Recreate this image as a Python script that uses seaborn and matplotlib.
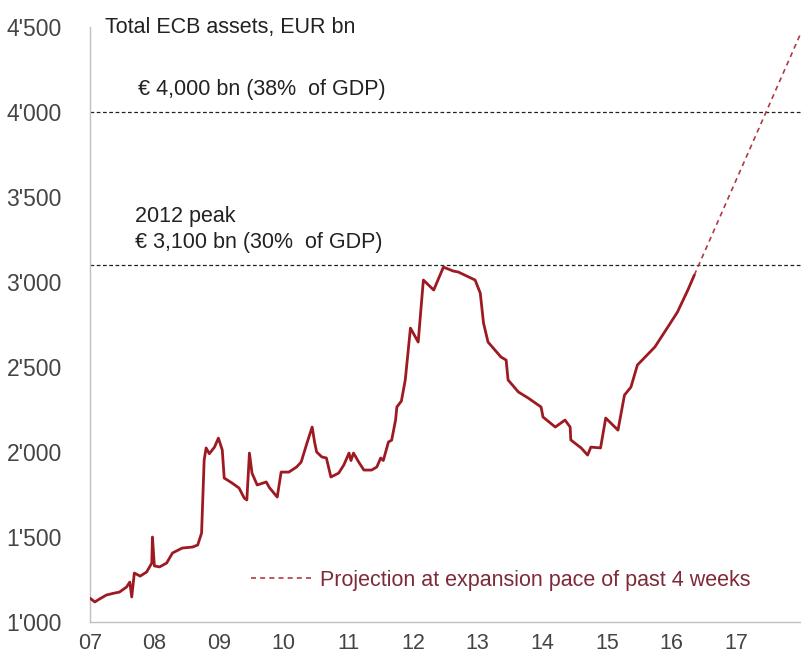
import seaborn as sns
import matplotlib.pyplot as plt
import pandas as pd

# Total ECB assets, EUR bn (decimal years)
years = [2007.00, 2007.08, 2007.15, 2007.26, 2007.38, 2007.46, 2007.57, 2007.62, 2007.65,
         2007.69, 2007.78, 2007.88, 2007.96, 2007.97, 2008.00, 2008.08, 2008.19, 2008.28,
         2008.43, 2008.59, 2008.67, 2008.73, 2008.77, 2008.80, 2008.85, 2008.93, 2008.99,
         2009.05, 2009.08, 2009.20, 2009.31, 2009.39, 2009.43, 2009.47, 2009.51, 2009.59,
         2009.73, 2009.78, 2009.90, 2009.96, 2010.08, 2010.20, 2010.27, 2010.36, 2010.44,
         2010.48, 2010.51, 2010.59, 2010.66, 2010.73, 2010.85, 2010.93, 2011.01, 2011.04,
         2011.08, 2011.16, 2011.24, 2011.36, 2011.44, 2011.50, 2011.54, 2011.62, 2011.67,
         2011.73, 2011.75, 2011.82, 2011.88, 2011.96, 2012.08, 2012.16, 2012.32, 2012.47,
         2012.62, 2012.70, 2012.96, 2013.04, 2013.09, 2013.16, 2013.36, 2013.44, 2013.47,
         2013.63, 2013.78, 2013.98, 2014.01, 2014.20, 2014.35, 2014.43, 2014.44, 2014.60,
         2014.70, 2014.75, 2014.90, 2014.98, 2015.17, 2015.27, 2015.37, 2015.47, 2015.74,
         2015.94, 2016.09, 2016.25, 2016.35]
assets = [1141, 1118, 1135, 1159, 1170, 1176, 1206, 1235, 1147,
          1288, 1270, 1294, 1347, 1500, 1330, 1324, 1347, 1406,
          1435, 1441, 1453, 1523, 1953, 2024, 1990, 2029, 2082,
          2012, 1847, 1818, 1788, 1729, 1718, 1994, 1876, 1806,
          1824, 1790, 1735, 1882, 1882, 1912, 1941, 2053, 2147,
          2053, 2000, 1971, 1965, 1853, 1876, 1924, 1994, 1950,
          1994, 1941, 1894, 1894, 1912, 1965, 1950, 2059, 2070,
          2188, 2265, 2300, 2424, 2729, 2647, 3012, 2953, 3088,
          3065, 3059, 3012, 2935, 2759, 2647, 2559, 2541, 2424,
          2353, 2318, 2265, 2206, 2147, 2188, 2147, 2071, 2024,
          1982, 2029, 2024, 2200, 2129, 2335, 2382, 2512, 2618,
          2735, 2824, 2953, 3041]

# Projection at expansion pace of past 4 weeks
proj_years = [2016.35, 2018.00]
proj_values = [3041, 4467]

# Reference levels
ref_levels = [4000, 3100]

x_ticks = list(range(2007, 2018))
x_labels = ["07", "08", "09", "10", "11", "12", "13", "14", "15", "16", "17"]
y_ticks = [1000, 1500, 2000, 2500, 3000, 3500, 4000, 4500]

df = pd.DataFrame({"year": years, "assets": assets})
proj = pd.DataFrame({"year": proj_years, "assets": proj_values})

sns.set_style("white")
plt.rcParams['font.family'] = ['Liberation Sans', 'DejaVu Sans']

fig = plt.figure(figsize=(8.01, 6.61), dpi=100)
ax = fig.add_axes([0.112, 0.059, 0.888, 0.9])

red = "#9e1a22"
for lvl in ref_levels:
    ax.axhline(lvl, color="#222222", linestyle=(0, (3, 2)), linewidth=0.9, zorder=1)

sns.lineplot(data=df, x="year", y="assets", ax=ax, color=red, linewidth=2.0, zorder=3)
sns.lineplot(data=proj, x="year", y="assets", ax=ax, color="#b03a44", linewidth=1.2,
             linestyle=(0, (3, 2.5)), zorder=2, label="Projection at expansion pace of past 4 weeks")

ax.set_xlim(2007, 2018.0)
ax.set_ylim(1000, 4500)
ax.set_xticks(x_ticks)
ax.set_xticklabels(x_labels)
ax.set_yticks(y_ticks)
ax.set_yticklabels([f"{v // 1000}'{v % 1000:03d}" for v in y_ticks])
ax.set_xlabel("")
ax.set_ylabel("")

for s in ["top", "right"]:
    ax.spines[s].set_visible(False)
for s in ["left", "bottom"]:
    ax.spines[s].set_color("#c0c0c0")
    ax.spines[s].set_linewidth(1.0)
ax.tick_params(axis="x", direction="in", length=7, color="#c0c0c0", labelsize=15.5,
               labelcolor="#444444", pad=8)
ax.tick_params(axis="y", direction="out", length=6, color="#c0c0c0", labelsize=16.5,
               labelcolor="#444444", pad=14)

txt = dict(fontsize=15.5, color="#222222")
ax.text(2007.23, 4500, "Total ECB assets, EUR bn", va="center", ha="left", **txt)
ax.text(2007.74, 4130, "€ 4,000 bn (38%  of GDP)", va="center", ha="left", **txt)
ax.text(2007.70, 3385, "2012 peak", va="center", ha="left", **txt)
ax.text(2007.70, 3235, "€ 3,100 bn (30%  of GDP)", va="center", ha="left", **txt)

leg = ax.legend(loc="lower left", bbox_to_anchor=(0.2, 0.02), frameon=False,
                handlelength=2.8, handletextpad=0.4, fontsize=15.5)
for t in leg.get_texts():
    t.set_color("#7e2a38")

fig.savefig("out.png", dpi=100)
